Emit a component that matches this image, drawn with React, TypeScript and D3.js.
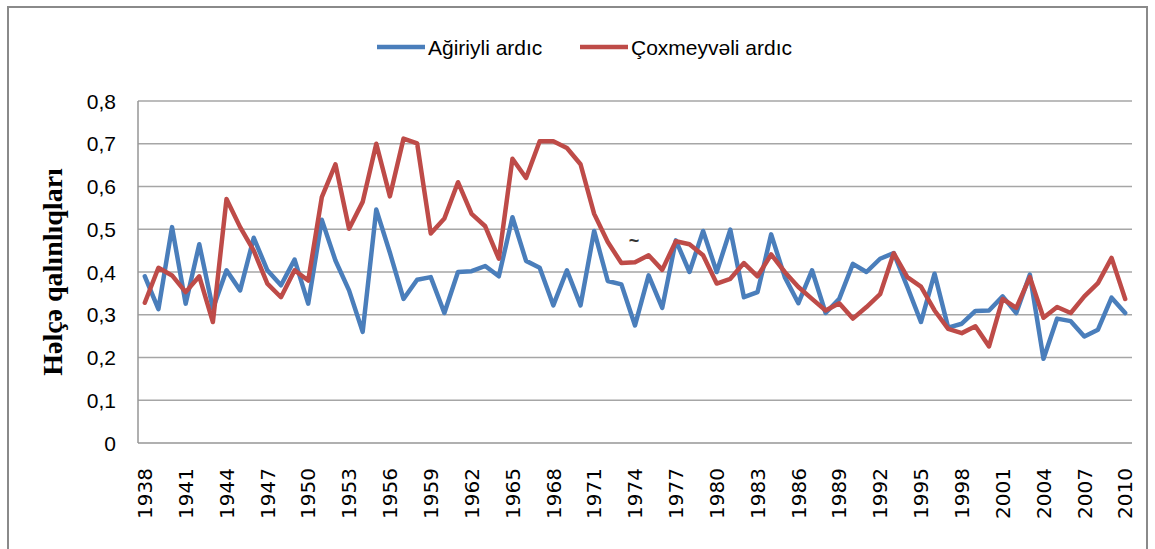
import React from "react";
import * as d3 from "d3";

const years: number[] = [
  1938, 1939, 1940, 1941, 1942, 1943, 1944, 1945, 1946, 1947,
  1948, 1949, 1950, 1951, 1952, 1953, 1954, 1955, 1956, 1957,
  1958, 1959, 1960, 1961, 1962, 1963, 1964, 1965, 1966, 1967,
  1968, 1969, 1970, 1971, 1972, 1973, 1974, 1975, 1976, 1977,
  1978, 1979, 1980, 1981, 1982, 1983, 1984, 1985, 1986, 1987,
  1988, 1989, 1990, 1991, 1992, 1993, 1994, 1995, 1996, 1997,
  1998, 1999, 2000, 2001, 2002, 2003, 2004, 2005, 2006, 2007,
  2008, 2009, 2010,
];

const agiriyli: number[] = [
  0.39, 0.313, 0.505, 0.326, 0.465, 0.314, 0.404, 0.357, 0.48, 0.404,
  0.369, 0.429, 0.326, 0.522, 0.427, 0.357, 0.26, 0.546, 0.445, 0.337,
  0.382, 0.388, 0.304, 0.4, 0.402, 0.414, 0.39, 0.528, 0.426, 0.41,
  0.322, 0.404, 0.322, 0.496, 0.379, 0.371, 0.275, 0.392, 0.316, 0.474,
  0.4, 0.496, 0.4, 0.499, 0.341, 0.353, 0.488, 0.388, 0.327, 0.404,
  0.304, 0.337, 0.419, 0.4, 0.431, 0.444, 0.365, 0.283, 0.396, 0.27,
  0.279, 0.309, 0.31, 0.343, 0.304, 0.394, 0.197, 0.291, 0.285, 0.249,
  0.265, 0.34, 0.304,
];

const coxmeyveli: number[] = [
  0.328, 0.41, 0.392, 0.353, 0.39, 0.283, 0.571, 0.505, 0.45, 0.373,
  0.341, 0.404, 0.38, 0.575, 0.652, 0.501, 0.564, 0.7, 0.577, 0.712,
  0.701, 0.49, 0.525, 0.61, 0.536, 0.507, 0.431, 0.665, 0.62, 0.706,
  0.706, 0.69, 0.652, 0.536, 0.47, 0.421, 0.423, 0.439, 0.405, 0.472,
  0.465, 0.439, 0.373, 0.384, 0.421, 0.39, 0.441, 0.4, 0.365, 0.337,
  0.31, 0.327, 0.291, 0.318, 0.348, 0.444, 0.388, 0.366, 0.31, 0.267,
  0.257, 0.273, 0.226, 0.337, 0.316, 0.388, 0.293, 0.318, 0.304, 0.343,
  0.374, 0.433, 0.337,
];

const yTicks: number[] = [0, 0.1, 0.2, 0.3, 0.4, 0.5, 0.6, 0.7, 0.8];
const xTickYears: number[] = [
  1938, 1941, 1944, 1947, 1950, 1953, 1956, 1959, 1962, 1965, 1968, 1971,
  1974, 1977, 1980, 1983, 1986, 1989, 1992, 1995, 1998, 2001, 2004, 2007, 2010,
];

const seriesNames = ["Ağiriyli ardıc", "Çoxmeyvəli ardıc"];
const seriesColors = ["#4A7EBB", "#BE4B48"];
const yTitle = "Həlçə qalınlıqları";

export default function App() {
  const W = 1155;
  const H = 549;
  const left = 138;
  const right = 1132;
  const top = 101;
  const bottom = 443;

  const x = d3.scalePoint<number>().domain(years).range([left, right]).padding(0.5);
  const y = d3.scaleLinear().domain([0, 0.8]).range([bottom, top]);

  const line = d3
    .line<number>()
    .x((_, i) => x(years[i]) as number)
    .y((d) => y(d));

  const fmt = (v: number) => (v === 0 ? "0" : d3.format(".1f")(v).replace(".", ","));
  const sans = "'Liberation Sans', Arial, sans-serif";

  const legendItems = [
    { x1: 377, x2: 425, tx: 428 },
    { x1: 580, x2: 628, tx: 631 },
  ];

  return (
    <svg
      width={W}
      height={H}
      style={{ position: "absolute", left: 0, top: 0, background: "#fff" }}
    >
      <rect x={0} y={0} width={W} height={H} fill="#fff" />
      <rect x={8} y={7} width={1139} height={560} fill="none" stroke="#8a8a8a" strokeWidth={2} />

      {/* gridlines */}
      {yTicks.map((t) =>
        t === 0 ? null : (
          <line key={t} x1={left} x2={right} y1={y(t)} y2={y(t)} stroke="#a6a6a6" strokeWidth={1.5} />
        )
      )}
      {/* axes */}
      <line x1={left} x2={left} y1={top} y2={bottom} stroke="#969696" strokeWidth={1.5} />
      <line x1={left} x2={right} y1={bottom} y2={bottom} stroke="#969696" strokeWidth={1.5} />

      {/* y tick labels */}
      {yTicks.map((t) => (
        <text
          key={"yl" + t}
          x={116}
          y={y(t)}
          dy="0.36em"
          textAnchor="end"
          fontFamily={sans}
          fontSize={21}
          fill="#000"
        >
          {fmt(t)}
        </text>
      ))}

      {/* x tick labels */}
      {xTickYears.map((yr) => (
        <text
          key={"xl" + yr}
          transform={`translate(${x(yr)},468) rotate(-90)`}
          dy="0.36em"
          textAnchor="end"
          fontFamily="'DejaVu Sans', sans-serif"
          fontSize={20}
          fill="#000"
        >
          {yr}
        </text>
      ))}

      {/* y title */}
      <text
        transform="translate(62,272) rotate(-90)"
        textAnchor="middle"
        fontFamily="'Liberation Serif', 'Times New Roman', serif"
        fontWeight="bold"
        fontSize={28}
        fill="#000"
      >
        {yTitle}
      </text>

      {/* series */}
      {[agiriyli, coxmeyveli].map((s, i) => (
        <path
          key={"s" + i}
          d={line(s) as string}
          fill="none"
          stroke={seriesColors[i]}
          strokeWidth={4.5}
          strokeLinejoin="round"
          strokeLinecap="round"
        />
      ))}

      {/* stray mark */}
      <text x={634} y={247} textAnchor="middle" fontFamily={sans} fontSize={18} fontWeight="bold" fill="#333">
        ~
      </text>

      {/* legend */}
      {legendItems.map((it, i) => (
        <g key={"lg" + i}>
          <line x1={it.x1} x2={it.x2} y1={47} y2={47} stroke={seriesColors[i]} strokeWidth={4.5} />
          <text x={it.tx} y={47} dy="0.36em" fontFamily={sans} fontSize={21} fill="#000">
            {seriesNames[i]}
          </text>
        </g>
      ))}
    </svg>
  );
}
